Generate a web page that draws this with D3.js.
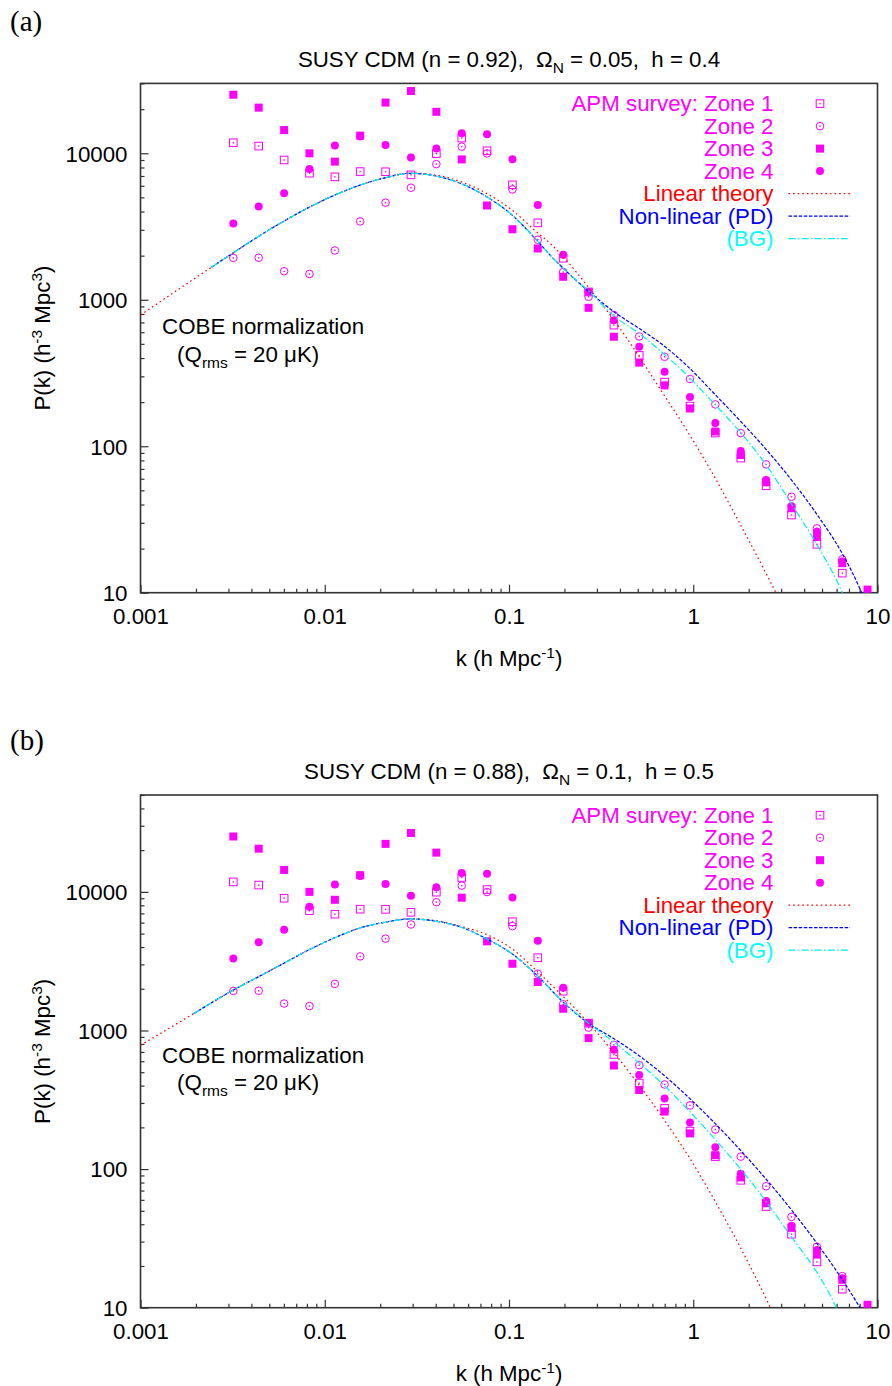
<!DOCTYPE html>
<html>
<head>
<meta charset="utf-8">
<script src="https://d3js.org/d3.v7.min.js"></script>
<style>
body { margin: 0; background: #fff; }
text { font-family: "Liberation Sans", Arial, sans-serif; white-space: pre; }
</style>
</head>
<body>
<div class="canvas"></div>
<script>
// APM survey k bins (h/Mpc) and P(k) of the four zones (same data in both panels)
const kBins = [0.00319, 0.00438, 0.00602, 0.00826, 0.01135, 0.01557, 0.02138, 0.02937, 0.04034, 0.0554,
    0.0760, 0.1044, 0.1433, 0.1968, 0.2703, 0.371, 0.509, 0.699, 0.960, 1.318,
    1.811, 2.486, 3.413, 4.69, 6.44, 8.83]
const zone1 = [11800, 11200, 9000, 7310, 6900, 7500, 7480, 7120, 9950, 12700,
    10400, 6090, 3350, 1920, 1130, 671, 417, 274, 188, 123,
    83, 53.7, 33.9, 21.4, 13.6, null]
const zone2 = [1930, 1935, 1565, 1500, 2170, 3425, 4600, 5820, 8430, 11100,
    9980, 5660, 2570, 1545, 1048, 787, 562, 408, 288, 193,
    123, 75.2, 45.2, 27.5, 16.9, null]
const zone3 = [25100, 20500, 14400, 10000, 8770, 13200, 22200, 26600, 19200, 9080,
    4400, 3030, 2240, 1435, 881, 559, 372, 260, 181, 126,
    87, 56.8, 37.7, 24.4, 15.9, 10.5]
const zone4 = [3310, 4340, 5330, 7820, 11300, 13000, 11400, 9360, 10800, 13700,
    13500, 9090, 4440, 2030, 1135, 726, 478, 323, 217, 144,
    92.7, 58.8, 39, 26.1, 16.3, null]

// panel (a) model curves
const kLinA = [0.001, 0.00316, 0.00433, 0.00593, 0.0082, 0.0112, 0.0154, 0.0212, 0.0293, 0.040,
    0.0551, 0.0757, 0.104, 0.141, 0.167, 0.196, 0.272, 0.372, 0.514, 0.632,
    0.962, 1.32, 1.82, 2.51, 3.0]
const pLinA = [787, 2075, 2687, 3413, 4270, 5150, 6040, 6800, 7325, 7100,
    6380, 5320, 4090, 2910, 2427, 1980, 1202, 726, 400, 268,
    118, 60, 28.5, 13.2, 8.5]
const kPDA = [0.00243, 0.00316, 0.00433, 0.00593, 0.0082, 0.0112, 0.0154, 0.0212, 0.0293, 0.040,
    0.0551, 0.0757, 0.104, 0.141, 0.167, 0.196, 0.272, 0.371, 0.508, 0.703,
    0.93, 1.32, 1.82, 2.51, 3.45, 4.71, 6.47, 8.04, 9.0]
const pPDA = [1670, 2075, 2687, 3413, 4270, 5150, 6040, 6800, 7300, 7000,
    6200, 5050, 3785, 2560, 2020, 1650, 1135, 828, 638, 478,
    352, 224, 146.6, 93.8, 57.8, 34.0, 18.3, 10.6, 7.5]
const kBGA = [0.00243, 0.00316, 0.00433, 0.00593, 0.0082, 0.0112, 0.0154, 0.0212, 0.0293, 0.040,
    0.0551, 0.0757, 0.104, 0.141, 0.167, 0.196, 0.272, 0.371, 0.508, 0.703,
    0.96, 1.32, 1.816, 2.51, 3.44, 4.70, 6.40, 7.0]
const pBGA = [1670, 2075, 2687, 3413, 4270, 5150, 6040, 6800, 7300, 7000,
    6200, 5050, 3785, 2560, 2020, 1650, 1140, 774, 590, 420,
    292, 191, 123, 73.3, 39.7, 21.2, 10.2, 7.8]

// panel (b) model curves
const kLinB = [0.001, 0.00194, 0.00316, 0.00433, 0.00593, 0.0082, 0.0112, 0.0154, 0.0212, 0.0293,
    0.040, 0.0551, 0.0757, 0.104, 0.141, 0.167, 0.223, 0.272, 0.371, 0.514,
    0.703, 0.964, 1.32, 1.82, 2.55, 2.8]
const pLinB = [782, 1321, 1945, 2427, 3030, 3820, 4635, 5470, 6040, 6400,
    6210, 5625, 4920, 3880, 2700, 2173, 1491, 1118, 690, 396,
    222, 118, 58, 26.5, 10.8, 8.2]
const kPDB = [0.00194, 0.00316, 0.00433, 0.00593, 0.0082, 0.0112, 0.0154, 0.0212, 0.0293, 0.040,
    0.0551, 0.0757, 0.104, 0.141, 0.196, 0.272, 0.371, 0.508, 0.703, 0.93,
    1.32, 1.82, 2.51, 3.45, 4.71, 6.47, 7.76, 8.5]
const pPDB = [1321, 1945, 2427, 3030, 3820, 4635, 5470, 6040, 6380, 6150,
    5560, 4580, 3570, 2520, 1610, 1120, 873, 658, 468, 335,
    212, 135, 83.3, 49.8, 28.9, 15.8, 10.8, 8.8]
const kBGB = [0.00194, 0.00316, 0.00433, 0.00593, 0.0082, 0.0112, 0.0154, 0.0212, 0.0293, 0.040,
    0.0551, 0.0757, 0.104, 0.141, 0.196, 0.272, 0.371, 0.508, 0.703, 0.93,
    1.32, 1.82, 2.51, 3.45, 4.71, 5.87, 6.4]
const pBGB = [1321, 1945, 2427, 3030, 3820, 4635, 5470, 6040, 6380, 6150,
    5560, 4580, 3570, 2520, 1610, 1120, 825, 584, 396, 271,
    163, 99, 57.3, 31.8, 17.8, 10.5, 8]

const xTicks = [0.001, 0.01, 0.1, 1, 10]
const yTicks = [10, 100, 1000, 10000]
const legendLabels = ["APM survey: Zone 1", "Zone 2", "Zone 3", "Zone 4",
    "Linear theory", "Non-linear (PD)", "(BG)"]

const MAG = "#ff00ff"
const FS = 22.3

const svg = d3.select(".canvas").append("svg")
    .attr("width", 892)
    .attr("height", 1386)

const left = 140.5
const right = 877.5

const panels = [
    {tag: "(a)", tagY: 31, n: "0.92", om: "0.05", h: "0.4", top: 83.4, bottom: 592.7, yMax: 30000,
        lin: [kLinA, pLinA], pd: [kPDA, pPDA], bg: [kBGA, pBGA]},
    {tag: "(b)", tagY: 750, n: "0.88", om: "0.1", h: "0.5", top: 795, bottom: 1307.7, yMax: 50000,
        lin: [kLinB, pLinB], pd: [kPDB, pPDB], bg: [kBGB, pBGB]}
]

function minorTicks(lo, hi) {
    const out = []
    for (let d = lo; d < hi; d *= 10) {
        for (let m = 2; m <= 9; m++) {
            const v = d * m
            if (v < hi * 1.0001) out.push(v)
        }
    }
    return out
}

// symbol painters
function openSquare(g, cx, cy) {
    g.append("rect").attr("x", cx - 3.8).attr("y", cy - 3.8).attr("width", 7.6).attr("height", 7.6)
        .attr("fill", "none").attr("stroke", MAG).attr("stroke-width", 1)
    g.append("rect").attr("x", cx - 0.7).attr("y", cy - 0.7).attr("width", 1.4).attr("height", 1.4).attr("fill", MAG)
}
function openCircle(g, cx, cy) {
    g.append("circle").attr("cx", cx).attr("cy", cy).attr("r", 3.8)
        .attr("fill", "none").attr("stroke", MAG).attr("stroke-width", 1)
    g.append("rect").attr("x", cx - 0.7).attr("y", cy - 0.7).attr("width", 1.4).attr("height", 1.4).attr("fill", MAG)
}
function fillSquare(g, cx, cy) {
    g.append("rect").attr("x", cx - 4).attr("y", cy - 4).attr("width", 8).attr("height", 8).attr("fill", MAG)
}
function fillCircle(g, cx, cy) {
    g.append("circle").attr("cx", cx).attr("cy", cy).attr("r", 4).attr("fill", MAG)
}

const zones = [[zone1, openSquare], [zone2, openCircle], [zone3, fillSquare], [zone4, fillCircle]]
const lineStyles = [
    {color: "#ff0000", dash: "1.6,3"},
    {color: "#0000ff", dash: "3.5,1.6"},
    {color: "#00f0f0", dash: "7,2.3,1.5,2.3"}
]

panels.forEach((p, pi) => {
    const x = d3.scaleLog().domain([0.001, 10]).range([left, right])
    const y = d3.scaleLog().domain([10, p.yMax]).range([p.bottom, p.top])
    const g = svg.append("g")

    // panel tag
    g.append("text").attr("x", 10).attr("y", p.tagY)
        .style("font-family", "'Liberation Serif', 'DejaVu Serif', serif")
        .attr("font-size", 29).text(p.tag)

    // title
    const title = g.append("text").attr("x", (left + right) / 2).attr("y", p.top - 16)
        .attr("text-anchor", "middle").attr("font-size", FS)
    title.append("tspan").text(`SUSY CDM (n = ${p.n}),  \u03A9`)
    title.append("tspan").attr("font-size", 15.5).attr("dy", 6).text("N")
    title.append("tspan").attr("dy", -6).text(` = ${p.om},  h = ${p.h}`)

    // clip
    const clipId = "clip" + pi
    svg.append("clipPath").attr("id", clipId).append("rect")
        .attr("x", left).attr("y", p.top).attr("width", right - left).attr("height", p.bottom - p.top)

    // axes
    const xMaj = g.append("g").attr("transform", `translate(0, ${p.bottom})`)
        .call(d3.axisBottom(x).tickValues(xTicks).tickSize(-8).tickPadding(15).tickFormat(d3.format("~g")))
    const xMin = g.append("g").attr("transform", `translate(0, ${p.bottom})`)
        .call(d3.axisBottom(x).tickValues(minorTicks(0.001, 10)).tickSize(-4).tickFormat(""))
    const yMaj = g.append("g").attr("transform", `translate(${left}, 0)`)
        .call(d3.axisLeft(y).tickValues(yTicks).tickSize(-8).tickPadding(13).tickFormat(d3.format("~g")))
    const yMin = g.append("g").attr("transform", `translate(${left}, 0)`)
        .call(d3.axisLeft(y).tickValues(minorTicks(10, p.yMax)).tickSize(-4).tickFormat(""))
    ;[xMaj, xMin, yMaj, yMin].forEach(a => {
        a.select(".domain").remove()
        a.selectAll("line").attr("stroke", "#333").attr("stroke-width", 1.2)
        a.selectAll("text").attr("font-size", FS).attr("fill", "#000")
            .style("font-family", "'Liberation Sans', Arial, sans-serif")
    })
    yMaj.selectAll("text").attr("dy", "0.35em")

    // frame
    g.append("rect").attr("x", left).attr("y", p.top)
        .attr("width", right - left).attr("height", p.bottom - p.top)
        .attr("fill", "none").attr("stroke", "#333").attr("stroke-width", 1.6)

    // axis labels
    const xl = g.append("text").attr("x", (left + right) / 2).attr("y", p.bottom + 73)
        .attr("text-anchor", "middle").attr("font-size", FS)
    xl.append("tspan").text("k (h Mpc")
    xl.append("tspan").attr("font-size", 15.5).attr("dy", -8).text("-1")
    xl.append("tspan").attr("dy", 8).text(")")

    const yl = g.append("text")
        .attr("transform", `translate(50, ${(p.top + p.bottom) / 2}) rotate(-90)`)
        .attr("text-anchor", "middle").attr("font-size", FS)
    yl.append("tspan").text("P(k) (h")
    yl.append("tspan").attr("font-size", 15.5).attr("dy", -8).text("-3")
    yl.append("tspan").attr("dy", 8).text(" Mpc")
    yl.append("tspan").attr("font-size", 15.5).attr("dy", -8).text("3")
    yl.append("tspan").attr("dy", 8).text(")")

    // COBE note
    g.append("text").attr("x", x(0.00131)).attr("y", y(580)).attr("font-size", FS).text("COBE normalization")
    const q = g.append("text").attr("x", x(0.00158)).attr("y", y(375)).attr("font-size", FS)
    q.append("tspan").text("(Q")
    q.append("tspan").attr("font-size", 15.5).attr("dy", 6).text("rms")
    q.append("tspan").attr("dy", -6).text(" = 20 \u03BCK)")

    const plot = g.append("g").attr("clip-path", `url(#${clipId})`)

    // data points
    zones.forEach(([vals, painter]) => {
        const zg = plot.append("g")
        vals.forEach((v, i) => {
            if (v != null) painter(zg, x(kBins[i]), y(v))
        })
    })

    // model curves
    const line = d3.line()
        .x(d => x(d[0]))
        .y(d => y(d[1]))
        .curve(d3.curveMonotoneX)
    ;[p.lin, p.pd, p.bg].forEach((c, ci) => {
        plot.append("path")
            .datum(d3.zip(c[0], c[1]))
            .attr("d", line)
            .attr("fill", "none")
            .attr("stroke", lineStyles[ci].color)
            .attr("stroke-width", 1.2)
            .attr("stroke-dasharray", lineStyles[ci].dash)
    })

    // legend
    const legColors = [MAG, MAG, MAG, MAG, "#ff0000", "#0000ff", "#00ffff"]
    legendLabels.forEach((lab, i) => {
        const cy = p.top + 20.2 + i * 22.5
        g.append("text").attr("x", 773.5).attr("y", cy + 7.7)
            .attr("text-anchor", "end").attr("font-size", FS)
            .attr("fill", legColors[i]).text(lab)
        if (i < 4) {
            zones[i][1](g, 820, cy)
        } else {
            const s = lineStyles[i - 4]
            g.append("line").attr("x1", 788.5).attr("x2", 850).attr("y1", cy).attr("y2", cy)
                .attr("stroke", s.color).attr("stroke-width", 1.2).attr("stroke-dasharray", s.dash)
        }
    })
})
</script>
</body>
</html>
